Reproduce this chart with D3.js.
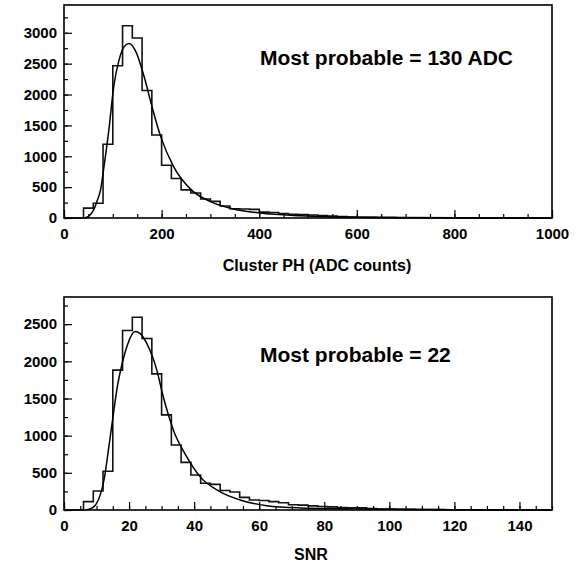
<!DOCTYPE html>
<html>
<head>
<meta charset="utf-8">
<script src="https://cdn.jsdelivr.net/npm/d3@7"></script>
<style>
  body { margin: 0; background: #fff; }
  svg text { font-family: "Liberation Sans", Arial, Helvetica, sans-serif; font-weight: bold; fill: #000; }
</style>
</head>
<body>
<svg id="chart" width="588" height="570"></svg>
<script>
// cluster pulse height histogram, 20 ADC bins from 0 to 1000
const phBinWidth = 20;
const phCounts = [0, 0, 160, 240, 1195, 2465, 3115, 2915, 2065, 1345,
    855, 640, 455, 405, 308, 270, 195, 150, 145, 140,
    95, 90, 72, 60, 55, 48, 40, 33, 22, 15,
    12, 10, 8, 7, 5, 5, 4, 3, 3, 2,
    2, 2, 1, 1, 1, 1, 0, 1, 0, 0];
// fitted curve
const phFitX = [42, 50, 61, 68, 75, 82, 92, 102, 113, 123, 133, 147, 164, 181, 198, 224, 262, 299, 347, 402, 484, 600, 800, 1000];
const phFitY = [0, 25, 135, 280, 458, 836, 1431, 2133, 2565, 2771, 2825, 2700, 2295, 1783, 1322, 840, 447, 270, 146, 81, 37, 12, 3, 1];
const phXTicks = [0, 200, 400, 600, 800, 1000];
const phYTicks = [0, 500, 1000, 1500, 2000, 2500, 3000];

// signal to noise histogram, bins of 3 from 0 to 150
const snrBinWidth = 3;
const snrCounts = [0, 0, 112, 256, 522, 1882, 2414, 2592, 2307, 1831,
    1279, 875, 640, 470, 360, 345, 262, 242, 170, 135,
    128, 112, 98, 70, 65, 55, 48, 42, 32, 30,
    28, 18, 14, 12, 10, 8, 7, 6, 5, 4,
    3, 3, 2, 2, 1, 1, 1, 0, 1, 0];
const snrFitX = [6.7, 8.5, 9.7, 11.3, 12.3, 13.8, 15.2, 16.4, 17.9, 19.5, 21.8, 23.5, 25.4, 28.5, 30.5, 33.6, 37.7, 41.8, 47.9, 54.1, 62.3, 72.6, 85, 100, 120, 150];
const snrFitY = [0, 25, 67, 224, 404, 852, 1301, 1660, 1974, 2221, 2400, 2370, 2244, 1885, 1526, 1077, 718, 449, 247, 135, 58, 28, 18, 9, 3, 1];
const snrXTicks = [0, 20, 40, 60, 80, 100, 120, 140];
const snrYTicks = [0, 500, 1000, 1500, 2000, 2500];

const svg = d3.select('#chart');

function drawPanel(opts) {
    const {top, bottom, left, right, xMax, yMax, binWidth, counts, fitX, fitY,
        xTicks, yTicks, xMinor, yMinor, label, title, titleY, labelX, labelY} = opts;

    const x = d3.scaleLinear().domain([0, xMax]).range([left, right]);
    const y = d3.scaleLinear().domain([0, yMax]).range([bottom, top]);
    const g = svg.append('g');

    // histogram as a step outline
    const steps = counts.map((c, i) => ({x: i * binWidth, y: c}));
    steps.push({x: counts.length * binWidth, y: counts[counts.length - 1]});
    g.append('path')
        .datum(steps)
        .attr('fill', 'none')
        .attr('stroke', '#111')
        .attr('stroke-width', 1.6)
        .attr('d', d3.line().x(d => x(d.x)).y(d => y(d.y)).curve(d3.curveStepAfter));

    // fit
    const fit = fitX.map((v, i) => ({x: v, y: fitY[i]}));
    g.append('path')
        .datum(fit)
        .attr('fill', 'none')
        .attr('stroke', '#000')
        .attr('stroke-width', 1.5)
        .attr('d', d3.line().x(d => x(d.x)).y(d => y(d.y)).curve(d3.curveMonotoneX));

    // minor ticks
    g.append('g')
        .attr('transform', `translate(0,${bottom})`)
        .call(d3.axisBottom(x).tickValues(d3.range(0, xMax + 0.001, xMinor)).tickSize(-4).tickFormat(''))
        .call(a => a.select('.domain').remove());
    g.append('g')
        .attr('transform', `translate(${left},0)`)
        .call(d3.axisLeft(y).tickValues(d3.range(0, yMax, yMinor)).tickSize(-4).tickFormat(''))
        .call(a => a.select('.domain').remove());

    // major ticks with labels
    const xAxis = g.append('g')
        .attr('transform', `translate(0,${bottom})`)
        .call(d3.axisBottom(x).tickValues(xTicks).tickSize(-8).tickFormat(d3.format('d')));
    xAxis.select('.domain').remove();
    xAxis.selectAll('text').attr('y', 10).attr('dy', '0.71em').style('font-size', '15px');

    const yAxis = g.append('g')
        .attr('transform', `translate(${left},0)`)
        .call(d3.axisLeft(y).tickValues(yTicks).tickSize(-8).tickFormat(d3.format('d')));
    yAxis.select('.domain').remove();
    yAxis.selectAll('text').attr('x', -7).style('font-size', '15px');

    g.selectAll('.tick line').attr('stroke', '#000').attr('stroke-width', 1.2);

    // frame
    g.append('rect')
        .attr('x', left).attr('y', top)
        .attr('width', right - left).attr('height', bottom - top)
        .attr('fill', 'none')
        .attr('stroke', '#000')
        .attr('stroke-width', 1.6);

    g.append('text')
        .attr('x', 260).attr('y', titleY)
        .style('font-size', '21px')
        .text(title);

    g.append('text')
        .attr('x', labelX).attr('y', labelY)
        .attr('text-anchor', 'middle')
        .style('font-size', '16px')
        .text(label);
}

drawPanel({
    top: 5, bottom: 218, left: 64, right: 552,
    xMax: 1000, yMax: 3450, binWidth: phBinWidth, counts: phCounts,
    fitX: phFitX, fitY: phFitY, xTicks: phXTicks, yTicks: phYTicks,
    xMinor: 50, yMinor: 250,
    title: 'Most probable = 130 ADC', titleY: 65,
    label: 'Cluster PH (ADC counts)', labelX: 317, labelY: 271
});

drawPanel({
    top: 297, bottom: 510, left: 64, right: 552,
    xMax: 150, yMax: 2865, binWidth: snrBinWidth, counts: snrCounts,
    fitX: snrFitX, fitY: snrFitY, xTicks: snrXTicks, yTicks: snrYTicks,
    xMinor: 5, yMinor: 250,
    title: 'Most probable = 22', titleY: 362,
    label: 'SNR', labelX: 311, labelY: 560
});
</script>
</body>
</html>
